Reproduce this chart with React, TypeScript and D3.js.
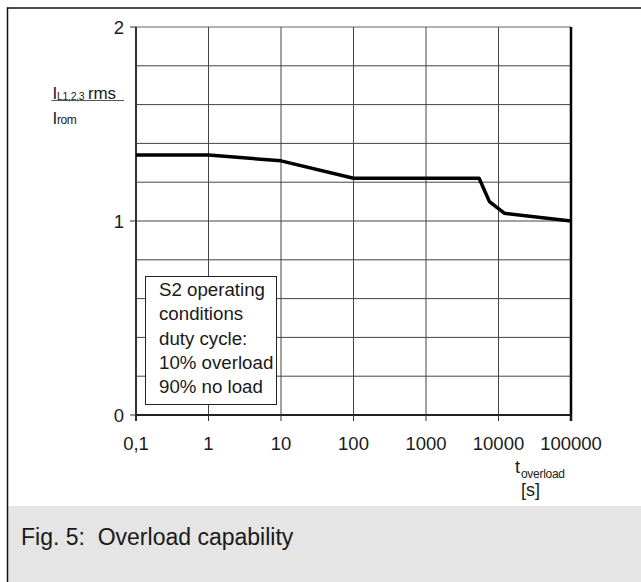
import React from "react";
import * as d3 from "d3";

const timeSeconds = [0.1, 1, 10, 100, 5400, 7500, 12000, 100000];
const currentRatio = [1.34, 1.34, 1.31, 1.22, 1.22, 1.1, 1.04, 1.0];
const xTicks = [0.1, 1, 10, 100, 1000, 10000, 100000];
const xTickLabels = ["0,1", "1", "10", "100", "1000", "10000", "100000"];
const yTicks = [0, 1, 2];
const yGrid = [0.2, 0.4, 0.6, 0.8, 1.0, 1.2, 1.4, 1.6, 1.8, 2.0];
const legendLines = ["S2 operating", "conditions", "duty cycle:", "10% overload", "90% no load"];
const caption = "Fig. 5:\u00a0\u00a0Overload capability";

const W = 641;
const H = 582;
const FONT = "'Liberation Sans', Arial, Helvetica, sans-serif";
const TXT = "#1a1a1a";

export default function App() {
  const x = d3.scaleLog().domain([0.1, 100000]).range([136, 571]);
  const y = d3.scaleLinear().domain([0, 2]).range([415, 27]);
  const line = d3
    .line<number>()
    .x((_, i) => x(timeSeconds[i]))
    .y((d) => y(d));

  return (
    <div style={{ position: "absolute", left: 0, top: 0 }}>
      <svg width={W} height={H} style={{ display: "block", background: "#fff" }} fontFamily={FONT}>
        {/* frame */}
        <rect x={8} y={506} width={W - 8} height={H - 506} fill="#e5e5e5" />
        <line x1={7} y1={8} x2={W} y2={8} stroke="#111" strokeWidth={1.5} />
        <line x1={7.5} y1={7.5} x2={7.5} y2={H} stroke="#111" strokeWidth={1.5} />

        {/* horizontal grid */}
        {yGrid.map((v) => (
          <line
            key={"h" + v}
            x1={x(0.1)}
            x2={x(100000)}
            y1={y(v)}
            y2={y(v)}
            stroke={v === 2 ? "#666" : "#444"}
            strokeWidth={1}
          />
        ))}
        {/* vertical grid */}
        {xTicks.slice(1, -1).map((t) => (
          <line key={"v" + t} x1={x(t)} x2={x(t)} y1={y(2)} y2={y(0)} stroke="#444" strokeWidth={1} />
        ))}

        {/* axes */}
        <line x1={x(0.1)} x2={x(0.1)} y1={y(2)} y2={y(0) + 6} stroke="#333" strokeWidth={2} />
        <line x1={x(0.1)} x2={x(100000)} y1={y(0)} y2={y(0)} stroke="#222" strokeWidth={2} />
        <line x1={x(100000)} x2={x(100000)} y1={y(2)} y2={y(0) + 6} stroke="#000" strokeWidth={2.5} />
        {yTicks.map((v) => (
          <line key={"yt" + v} x1={x(0.1) - 6} x2={x(0.1)} y1={y(v)} y2={y(v)} stroke="#333" strokeWidth={1} />
        ))}
        {xTicks.map((t) => (
          <line key={"xt" + t} x1={x(t)} x2={x(t)} y1={y(0)} y2={y(0) + 6} stroke="#333" strokeWidth={1} />
        ))}

        {/* curve */}
        <path d={line(currentRatio) || ""} fill="none" stroke="#000" strokeWidth={3.5} strokeLinejoin="round" />

        {/* y tick labels */}
        {yTicks.map((v) => (
          <text key={"yl" + v} x={124} y={y(v) + 6.5} textAnchor="end" fontSize={18.5} fill={TXT}>
            {v}
          </text>
        ))}
        {/* x tick labels */}
        {xTicks.map((t, i) => (
          <text key={"xl" + t} x={x(t)} y={450} textAnchor="middle" fontSize={18.5} fill={TXT}>
            {xTickLabels[i]}
          </text>
        ))}

        {/* y axis label */}
        <text x={52.5} y={99} fontSize={17} fill={TXT}>
          I
        </text>
        <text x={57} y={99.5} fontSize={10.5} fill={TXT} letterSpacing={-0.3}>
          L1,2,3
        </text>
        <text x={88} y={99} fontSize={17} fill={TXT} letterSpacing={-0.2}>
          rms
        </text>
        <line x1={51.5} x2={124} y1={100.5} y2={100.5} stroke="#555" strokeWidth={1} />
        <text x={52.5} y={123.5} fontSize={17} fill={TXT}>
          I
        </text>
        <text x={57} y={123.5} fontSize={12} fill={TXT} letterSpacing={-0.4}>
          rom
        </text>

        {/* x axis label */}
        <text x={515} y={473} fontSize={18} fill={TXT}>
          t
        </text>
        <text x={521} y={478} fontSize={12} fill={TXT} letterSpacing={-0.3}>
          overload
        </text>
        <text x={521} y={496} fontSize={18} fill={TXT}>
          [s]
        </text>

        {/* legend box */}
        <rect x={145.5} y={276.5} width={131} height={128} fill="#fff" stroke="#222" strokeWidth={1} />
        {legendLines.map((s, i) => (
          <text key={s} x={159} y={296 + i * 24.3} fontSize={18.7} fill={TXT}>
            {s}
          </text>
        ))}

        {/* caption */}
        <text x={21} y={545} fontSize={23} fill={TXT}>
          {caption}
        </text>
      </svg>
    </div>
  );
}
